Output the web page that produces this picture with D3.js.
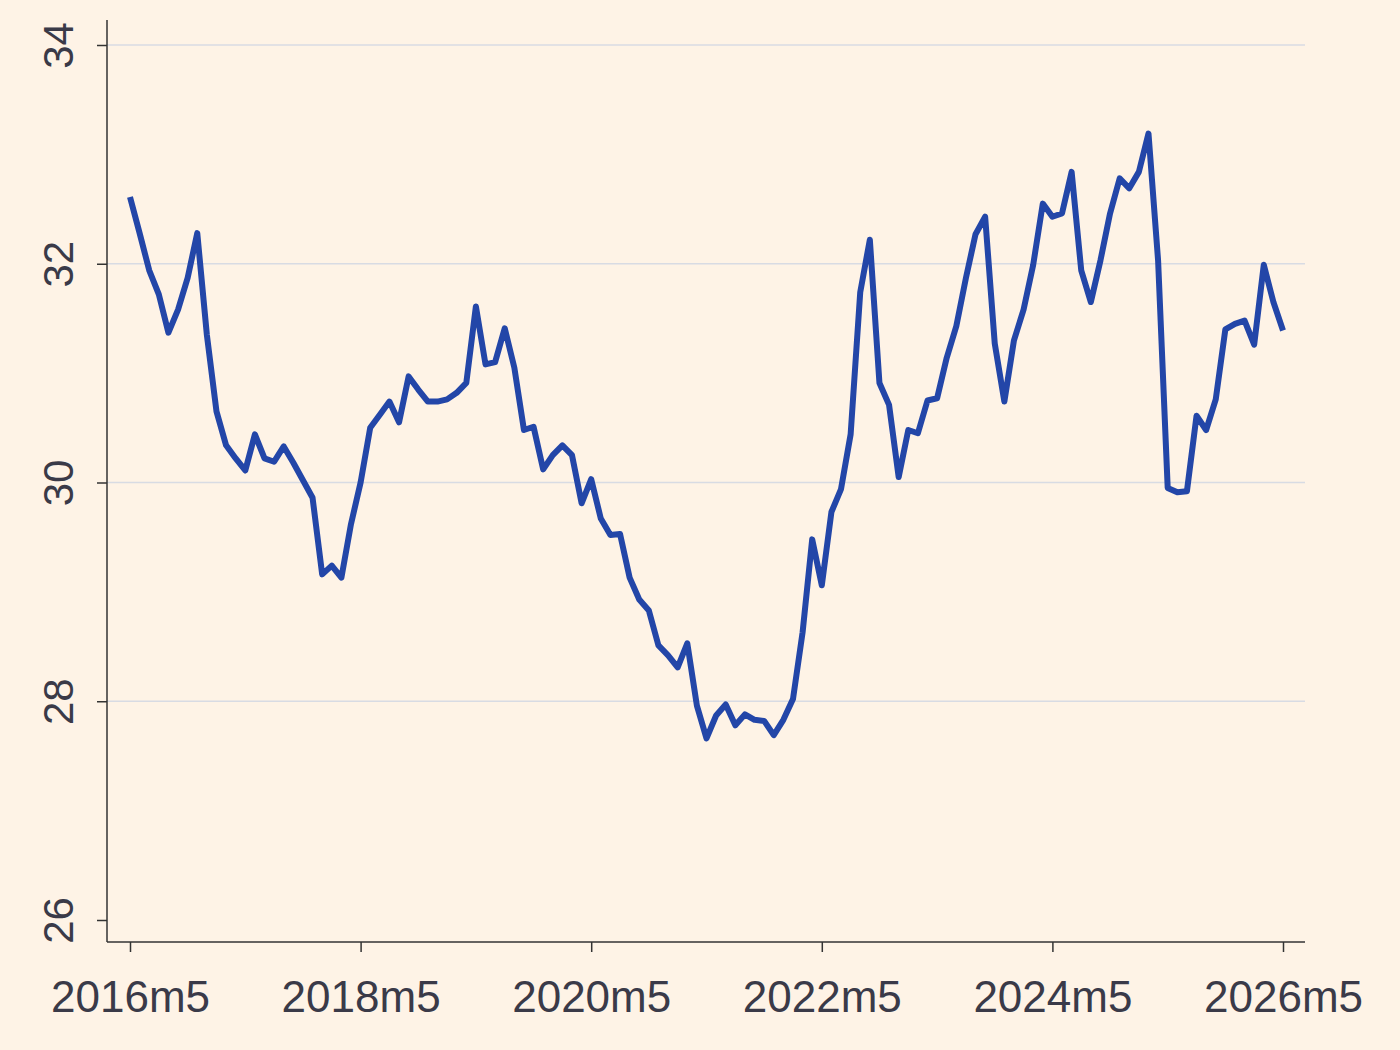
<!DOCTYPE html><html><head><meta charset="utf-8"><script src="https://d3js.org/d3.v7.min.js"></script>
<style>body{margin:0;background:#fef3e6}</style></head><body><svg id="c" width="1400" height="1050"></svg><script>
const startYear=2016, startMonth=5;
const values=[32.61,32.28,31.94,31.72,31.37,31.58,31.87,32.28,31.35,30.65,30.34,30.22,30.11,30.44,30.22,30.19,30.33,30.18,30.02,29.86,29.16,29.24,29.13,29.62,30.0,30.50,30.62,30.74,30.55,30.97,30.85,30.74,30.74,30.76,30.82,30.91,31.61,31.08,31.10,31.41,31.05,30.48,30.51,30.12,30.25,30.34,30.25,29.81,30.03,29.67,29.52,29.53,29.13,28.93,28.83,28.51,28.42,28.31,28.53,27.96,27.66,27.87,27.97,27.78,27.88,27.83,27.82,27.69,27.83,28.02,28.63,29.48,29.06,29.73,29.94,30.44,31.74,32.22,30.91,30.71,30.05,30.48,30.45,30.75,30.77,31.14,31.43,31.87,32.27,32.43,31.27,30.74,31.30,31.58,31.99,32.55,32.43,32.46,32.84,31.94,31.65,32.03,32.46,32.78,32.69,32.84,33.19,32.03,29.95,29.91,29.92,30.61,30.48,30.76,31.40,31.45,31.48,31.26,31.99,31.65,31.39];
const xTicks=[0,24,48,72,96,120];
const xTickLabels=["2016m5","2018m5","2020m5","2022m5","2024m5","2026m5"];
const yTicks=[26,28,30,32,34];
const svg=d3.select("#c");
svg.append("rect").attr("width",1400).attr("height",1050).attr("fill","#fef3e6");
const x=d3.scaleLinear().domain([0,120]).range([130,1283]);
const y=d3.scaleLinear().domain([26,34]).range([920,45]);
const L=107,R=1305,B=942,T=20;
svg.append("g").selectAll("line").data(yTicks.slice(1)).join("line")
 .attr("x1",L).attr("x2",R).attr("y1",d=>y(d)).attr("y2",d=>y(d)).attr("stroke","#d8dbe3").attr("stroke-width",1.5);
const ya=svg.append("g").attr("transform",`translate(${L},0)`).call(d3.axisLeft(y).tickValues(yTicks).tickSize(10).tickSizeOuter(0).tickFormat(d3.format("d")));
ya.select(".domain").remove();
ya.selectAll("line").attr("stroke","#333").attr("stroke-width",1.5);
ya.selectAll("text").attr("transform",d=>`translate(-34,0) rotate(-90)`).attr("x",0).attr("dy","0").attr("text-anchor","middle")
 .attr("font-family","Liberation Sans, Arial").attr("font-size",42).attr("fill","#3a3a48");
svg.append("line").attr("x1",L).attr("x2",L).attr("y1",T).attr("y2",B).attr("stroke","#333").attr("stroke-width",1.5);
const xa=svg.append("g").attr("transform",`translate(0,${B})`).call(d3.axisBottom(x).tickValues(xTicks).tickSize(10).tickSizeOuter(0).tickFormat((d,i)=>xTickLabels[i]));
xa.select(".domain").remove();
xa.selectAll("line").attr("stroke","#333").attr("stroke-width",1.5);
xa.selectAll("text").attr("dy","0").attr("y",70).attr("font-family","Liberation Sans, Arial").attr("font-size",44).attr("fill","#3a3a48");
svg.append("line").attr("x1",L).attr("x2",R).attr("y1",B).attr("y2",B).attr("stroke","#333").attr("stroke-width",1.5);
svg.append("path").datum(values).attr("fill","none").attr("stroke","#2346a8").attr("stroke-width",6).attr("stroke-linejoin","round")
 .attr("d",d3.line().x((d,i)=>x(i)).y(d=>y(d)));
</script></body></html>
